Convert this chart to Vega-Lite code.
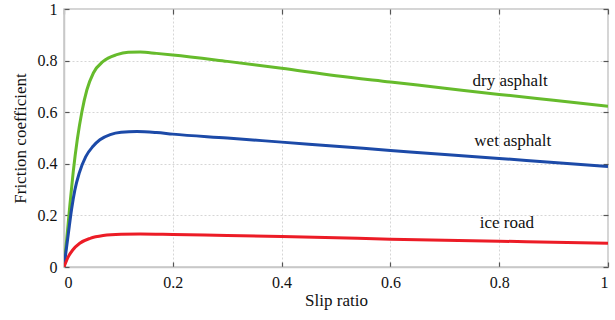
{
  "$schema": "https://vega.github.io/schema/vega-lite/v6.json",
  "width": 544,
  "height": 258,
  "autosize": "none",
  "padding": {"left": 64, "top": 9, "right": 7, "bottom": 53},
  "config": {
    "view": {"stroke": "#c8c8c8", "strokeWidth": 1.5},
    "font": "Liberation Serif, DejaVu Serif, serif",
    "axis": {
      "labelFont": "Liberation Serif, DejaVu Serif, serif",
      "titleFont": "Liberation Serif, DejaVu Serif, serif",
      "labelFontSize": 16,
      "titleFontSize": 17,
      "titleFontWeight": "normal",
      "labelColor": "#111",
      "titleColor": "#111",
      "domainColor": "#c8c8c8",
      "domainWidth": 1.5,
      "tickColor": "#555",
      "tickSize": -5,
      "tickWidth": 1.2,
      "gridColor": "#d6d6d6",
      "gridDash": [2, 2],
      "gridWidth": 1
    }
  },
  "datasets": {
    "curves": [
      {"s": 0, "mu": 0, "road": "dry asphalt"},
      {"s": 0.006, "mu": 0.13, "road": "dry asphalt"},
      {"s": 0.011, "mu": 0.245, "road": "dry asphalt"},
      {"s": 0.017, "mu": 0.37, "road": "dry asphalt"},
      {"s": 0.0245, "mu": 0.495, "road": "dry asphalt"},
      {"s": 0.033, "mu": 0.603, "road": "dry asphalt"},
      {"s": 0.042, "mu": 0.686, "road": "dry asphalt"},
      {"s": 0.054, "mu": 0.752, "road": "dry asphalt"},
      {"s": 0.072, "mu": 0.797, "road": "dry asphalt"},
      {"s": 0.097, "mu": 0.823, "road": "dry asphalt"},
      {"s": 0.118, "mu": 0.832, "road": "dry asphalt"},
      {"s": 0.14, "mu": 0.833, "road": "dry asphalt"},
      {"s": 0.17, "mu": 0.828, "road": "dry asphalt"},
      {"s": 0.2, "mu": 0.822, "road": "dry asphalt"},
      {"s": 0.3, "mu": 0.797, "road": "dry asphalt"},
      {"s": 0.4, "mu": 0.77, "road": "dry asphalt"},
      {"s": 0.5, "mu": 0.741, "road": "dry asphalt"},
      {"s": 0.6, "mu": 0.717, "road": "dry asphalt"},
      {"s": 0.7, "mu": 0.693, "road": "dry asphalt"},
      {"s": 0.8, "mu": 0.669, "road": "dry asphalt"},
      {"s": 0.9, "mu": 0.646, "road": "dry asphalt"},
      {"s": 1.0, "mu": 0.623, "road": "dry asphalt"},
      {"s": 0, "mu": 0, "road": "wet asphalt"},
      {"s": 0.008, "mu": 0.13, "road": "wet asphalt"},
      {"s": 0.014, "mu": 0.225, "road": "wet asphalt"},
      {"s": 0.02, "mu": 0.299, "road": "wet asphalt"},
      {"s": 0.028, "mu": 0.364, "road": "wet asphalt"},
      {"s": 0.04, "mu": 0.428, "road": "wet asphalt"},
      {"s": 0.053, "mu": 0.467, "road": "wet asphalt"},
      {"s": 0.066, "mu": 0.493, "road": "wet asphalt"},
      {"s": 0.085, "mu": 0.513, "road": "wet asphalt"},
      {"s": 0.105, "mu": 0.522, "road": "wet asphalt"},
      {"s": 0.134, "mu": 0.525, "road": "wet asphalt"},
      {"s": 0.17, "mu": 0.521, "road": "wet asphalt"},
      {"s": 0.2, "mu": 0.515, "road": "wet asphalt"},
      {"s": 0.3, "mu": 0.5, "road": "wet asphalt"},
      {"s": 0.4, "mu": 0.484, "road": "wet asphalt"},
      {"s": 0.5, "mu": 0.468, "road": "wet asphalt"},
      {"s": 0.6, "mu": 0.452, "road": "wet asphalt"},
      {"s": 0.7, "mu": 0.436, "road": "wet asphalt"},
      {"s": 0.8, "mu": 0.421, "road": "wet asphalt"},
      {"s": 0.9, "mu": 0.405, "road": "wet asphalt"},
      {"s": 1.0, "mu": 0.39, "road": "wet asphalt"},
      {"s": 0, "mu": 0, "road": "ice road"},
      {"s": 0.008, "mu": 0.04, "road": "ice road"},
      {"s": 0.016, "mu": 0.066, "road": "ice road"},
      {"s": 0.029, "mu": 0.092, "road": "ice road"},
      {"s": 0.048, "mu": 0.111, "road": "ice road"},
      {"s": 0.072, "mu": 0.122, "road": "ice road"},
      {"s": 0.105, "mu": 0.127, "road": "ice road"},
      {"s": 0.14, "mu": 0.128, "road": "ice road"},
      {"s": 0.2, "mu": 0.126, "road": "ice road"},
      {"s": 0.3, "mu": 0.122, "road": "ice road"},
      {"s": 0.4, "mu": 0.118, "road": "ice road"},
      {"s": 0.5, "mu": 0.113, "road": "ice road"},
      {"s": 0.6, "mu": 0.108, "road": "ice road"},
      {"s": 0.7, "mu": 0.104, "road": "ice road"},
      {"s": 0.8, "mu": 0.1, "road": "ice road"},
      {"s": 0.9, "mu": 0.096, "road": "ice road"},
      {"s": 1.0, "mu": 0.092, "road": "ice road"}
    ],
    "labels": [
      {"s": 0.82, "mu": 0.72, "text": "dry asphalt"},
      {"s": 0.825, "mu": 0.487, "text": "wet asphalt"},
      {"s": 0.814, "mu": 0.172, "text": "ice road"}
    ]
  },
  "resolve": {"axis": {"x": "independent", "y": "independent"}},
  "layer": [
    {
      "data": {"name": "curves"},
      "mark": {"type": "line", "strokeWidth": 3, "interpolate": "monotone", "clip": true},
      "encoding": {
        "x": {"field": "s", "type": "quantitative", "scale": {"domain": [0, 1], "nice": false},
          "axis": {"orient": "bottom", "title": "Slip ratio", "values": [0, 0.2, 0.4, 0.6, 0.8, 1], "format": "~g", "labelPadding": 12, "titlePadding": 2, "grid": true}},
        "y": {"field": "mu", "type": "quantitative", "scale": {"domain": [0, 1], "nice": false},
          "axis": {"orient": "left", "title": "Friction coefficient", "values": [0, 0.2, 0.4, 0.6, 0.8, 1], "format": "~g", "labelPadding": 12, "titlePadding": 8, "grid": true}},
        "color": {"field": "road", "type": "nominal", "legend": null,
          "scale": {"domain": ["dry asphalt", "wet asphalt", "ice road"], "range": ["#66bb2c", "#1c4aa8", "#ec1c26"]}},
        "detail": {"field": "road"}
      }
    },
    {
      "data": {"name": "labels"},
      "mark": {"type": "text", "font": "Liberation Serif, DejaVu Serif, serif", "fontSize": 17, "color": "#111", "align": "center", "baseline": "middle"},
      "encoding": {
        "x": {"field": "s", "type": "quantitative", "scale": {"domain": [0, 1], "nice": false},
          "axis": {"orient": "top", "title": null, "labels": false, "domain": false, "grid": false, "values": [0, 0.2, 0.4, 0.6, 0.8, 1]}},
        "y": {"field": "mu", "type": "quantitative", "scale": {"domain": [0, 1], "nice": false},
          "axis": {"orient": "right", "title": null, "labels": false, "domain": false, "grid": false, "values": [0, 0.2, 0.4, 0.6, 0.8, 1]}},
        "text": {"field": "text"}
      }
    }
  ]
}
